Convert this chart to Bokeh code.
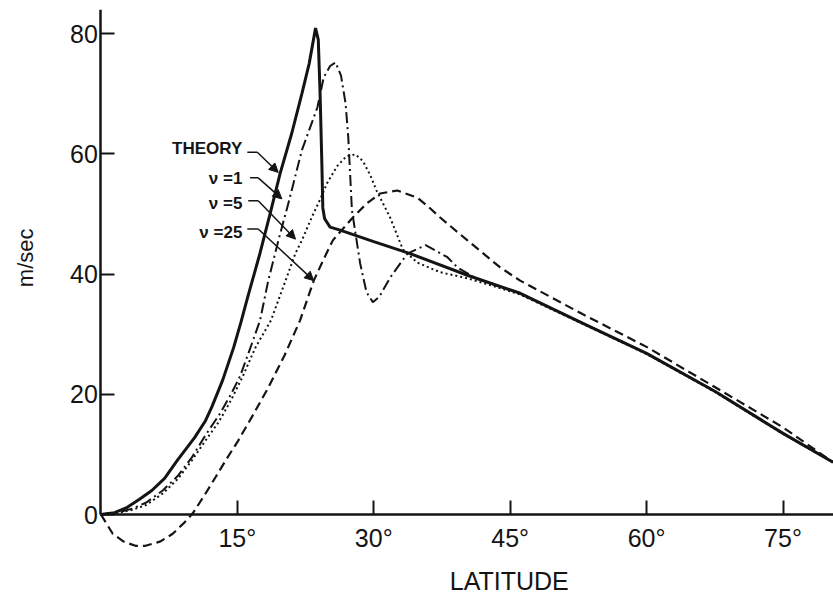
import math
from bokeh.plotting import figure
from bokeh.models import Range1d, FixedTicker, Arrow, NormalHead, Label
from bokeh.core.properties import value
from bokeh.embed import file_html
from bokeh.resources import INLINE

# ---------------- data ----------------
theory_lat = [0, 1.5, 2.9, 4.2, 5.6, 7, 8.4, 10.3, 11.5, 12.2, 13.4, 14.6, 15.4, 16.2, 17.5,
              18.6, 19.7, 21, 22.1, 22.9, 23.6, 23.9, 24.1, 24.3, 24.4, 24.6, 25.2, 26.3,
              30, 34.0, 40.3, 46.1, 53, 60.0, 67.5, 75.0, 80.5]
theory_ms = [0, 0.3, 1.2, 2.5, 4.0, 6, 9.0, 12.8, 15.6, 17.9, 22.4, 27.8, 32.0, 36.5, 43.5,
             50, 56.7, 63.5, 70.0, 75, 80.9, 79, 70, 58, 51, 49.2, 47.8, 47.3,
             45.4, 43.4, 39.8, 36.8, 31.8, 26.8, 20.5, 13.5, 8.7]

nu1_lat = [0, 2, 3.5, 5, 6.8, 8.5, 10, 11.5, 13.1, 14.3, 15.3, 16.5, 17.5, 18.4, 19.5, 20.6,
           22.1, 23.8, 24.5, 25.2, 25.8, 26.4, 26.9, 27.2, 27.6, 28.5, 29.2, 29.9, 30.6, 31.8,
           33.7, 35.7, 38.1, 39.2, 41.2, 46.1, 53, 60, 67.5, 75, 80.5]
nu1_ms = [0, 0.4, 1.0, 2.0, 4, 6.5, 9.5, 13.2, 16.8, 20, 23, 28, 32.3, 38.9, 45.5, 51.7,
          60.6, 67.7, 72.7, 74.6, 75.2, 73, 68.4, 62.7, 50.6, 41.8, 37, 35.3, 36.2, 39.4,
          43.4, 44.8, 42.8, 41.1, 39.3, 36.8, 31.8, 26.8, 20.5, 13.5, 8.7]

nu5_lat = [0, 2, 3.5, 5, 6.8, 8.5, 10, 11.5, 13, 14.3, 15.6, 17, 18.7, 20.3, 21.4, 22.1,
           23.2, 24.1, 24.9, 26, 27, 28.0, 28.8, 29.6, 30.3, 31.8, 33.2, 34.8, 37.3, 40.3,
           44, 46.1, 53, 60, 67.5, 75, 80.5]
nu5_ms = [0, 0.3, 0.8, 1.6, 3.5, 6, 9, 12.3, 15.5, 19, 23, 27.8, 32.3, 38.9, 43.5, 45.6,
          49.5, 52.4, 55.2, 58, 59.6, 59.9, 58.8, 56.5, 53.9, 49.4, 44.1, 41.9, 40.3, 39.3,
          37.6, 36.6, 31.7, 26.7, 20.4, 13.4, 8.7]

nu25_lat = [0, 1.3, 2.5, 3.8, 4.9, 6.5, 7.9, 9.2, 10.1, 11.3, 12.6, 13.8, 15.1, 16.7, 18.4,
            20.2, 21.9, 23.4, 24.5, 25.5, 27.7, 29.2, 30.7, 32.6, 34.8, 36, 37.3, 40.3,
            43.9, 46.1, 53, 60.1, 67.5, 75, 80.5]
nu25_ms = [0, -3.2, -4.5, -5.2, -5.2, -4.5, -3.2, -1.3, 0.2, 3, 6.2, 9.2, 12.3, 16.5, 21.1,
           26.5, 32.3, 38.9, 42.5, 45.6, 49.4, 51.7, 53.4, 53.9, 52.7, 51.2, 49.4, 45.6,
           41.1, 38.9, 33.3, 27.8, 21.2, 14.5, 8.7]

lat_ticks = [15, 30, 45, 60, 75]
lat_tick_labels = ["15°", "30°", "45°", "60°", "75°"]
ms_ticks = [0, 20, 40, 60, 80]

x_title = "LATITUDE"
y_title = "m/sec"

label_texts = ["THEORY", "ν =1", "ν =5", "ν =25"]
label_lat = [15.55, 15.55, 15.55, 15.55]
label_ms = [60.8, 55.9, 51.7, 46.9]
leader_start_lat = [16.1, 16.4, 16.2, 16.1]
leader_knee_lat = [17.2, 17.3, 17.3, 17.3]
leader_ms = [60.25, 56.0, 52.2, 47.5]
arrow_tip_lat = [19.5, 19.9, 21.4, 23.4]
arrow_tip_ms = [56.9, 52.5, 45.8, 38.9]

# ---------------- figure ----------------
FONT = "Liberation Sans"
INK = "#141414"

# the frame fills the page; both axes sit at the data origin
p = figure(width=833, height=597, output_backend="svg", toolbar_location=None,
           x_range=Range1d(-11.04, 80.55), y_range=Range1d(-13.8, 84.0),
           min_border_left=0, min_border_right=0, min_border_top=9, min_border_bottom=0)
p.outline_line_color = None
p.xgrid.visible = False
p.ygrid.visible = False
p.background_fill_color = "white"

# series
p.line(theory_lat, theory_ms, line_color=INK, line_width=3)
p.line(nu1_lat, nu1_ms, line_color=INK, line_width=2, line_dash="11 4 2 4")
p.line(nu5_lat, nu5_ms, line_color=INK, line_width=2, line_dash="2 3")
p.line(nu25_lat, nu25_ms, line_color=INK, line_width=2.2, line_dash="9 5")

# labels with leaders
p.text(x=label_lat, y=label_ms, text=label_texts, text_align="right", text_baseline="middle",
       text_font=value(FONT), text_font_size="17px", text_font_style="bold", text_color=INK)
p.multi_line(xs=[[a, b] for a, b in zip(leader_start_lat, leader_knee_lat)],
             ys=[[y, y] for y in leader_ms], line_color=INK, line_width=1.5)
for kx, ky, tx, ty in zip(leader_knee_lat, leader_ms, arrow_tip_lat, arrow_tip_ms):
    p.add_layout(Arrow(end=NormalHead(size=9, fill_color=INK, line_color=INK),
                       x_start=kx, y_start=ky, x_end=tx, y_end=ty,
                       line_color=INK, line_width=1.5))

# axes
for ax in (p.xaxis[0], p.yaxis[0]):
    ax.axis_line_color = INK
    ax.axis_line_width = 2.5
    ax.major_tick_line_color = INK
    ax.major_tick_line_width = 2
    ax.major_tick_in = 14
    ax.major_tick_out = 0
    ax.minor_tick_line_color = None
    ax.major_label_text_font = FONT
    ax.major_label_text_font_size = "25px"
    ax.major_label_text_color = INK

p.xaxis.fixed_location = 0
p.xaxis.bounds = (0, 90)
p.xaxis.ticker = FixedTicker(ticks=lat_ticks)
p.xaxis.major_label_overrides = {t: s for t, s in zip(lat_ticks, lat_tick_labels)}
p.xaxis.major_label_standoff = 9

p.yaxis.fixed_location = 0
p.yaxis.bounds = (0, 84)
p.yaxis.ticker = FixedTicker(ticks=ms_ticks)
p.yaxis.major_label_standoff = 3
p.yaxis.major_label_orientation = "horizontal"

# axis titles, placed where the original puts them
p.add_layout(Label(x=44.9, y=-11.0, text=x_title, text_align="center", text_baseline="middle",
                   text_font=FONT, text_font_size="25px", text_color=INK))
p.add_layout(Label(x=-8.3, y=42.7, text=y_title, text_align="center", text_baseline="middle",
                   angle=math.pi / 2, text_font=FONT, text_font_size="22px", text_color=INK))

open("out.html", "w").write(file_html(p, INLINE))
